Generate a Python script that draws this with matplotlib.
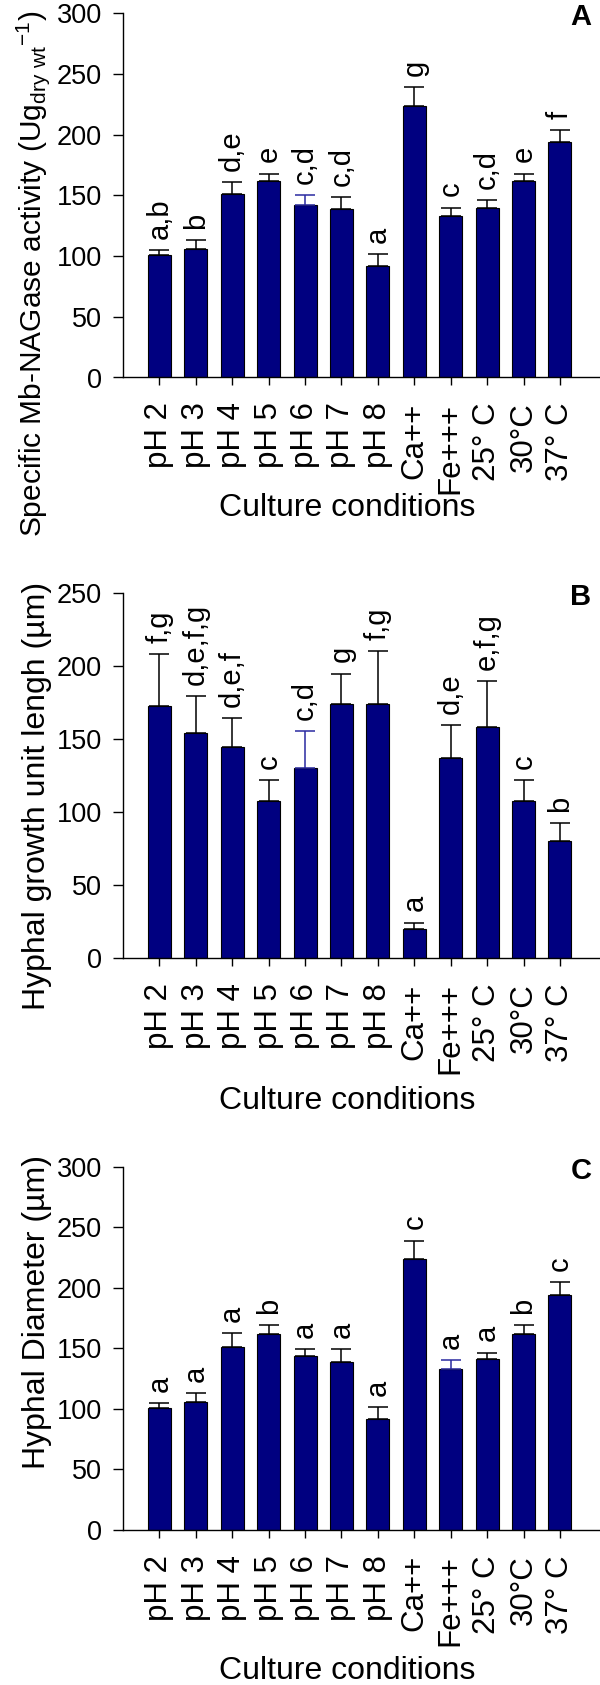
import matplotlib
matplotlib.use("Agg")
import matplotlib.pyplot as plt
import numpy as np

plt.rcParams['font.family'] = ['Liberation Sans', 'DejaVu Sans']
plt.rcParams['mathtext.fontset'] = 'custom'
plt.rcParams['mathtext.rm'] = 'Liberation Sans'
plt.rcParams['mathtext.default'] = 'regular'

categories = ['pH 2', 'pH 3', 'pH 4', 'pH 5', 'pH 6', 'pH 7', 'pH 8',
              'Ca++', 'Fe+++', '25° C', '30°C', '37° C']

# Panel A: specific Mb-NAGase activity
a_vals = [101, 106, 151, 162, 142.5, 139, 92, 224, 133, 140, 162, 194]
a_err = [4, 7.5, 10, 6, 7.5, 10, 9.5, 15, 7, 6.5, 6, 9.5]
a_letters = ['a,b', 'b', 'd,e', 'e', 'c,d', 'c,d', 'a', 'g', 'c', 'c,d', 'e', 'f']

# Panel B: hyphal growth unit length
b_vals = [173, 154.5, 144.5, 108, 130, 174.5, 174, 20, 137.5, 158.5, 108, 80.5]
b_err = [35.5, 25, 20, 14, 25.5, 20.5, 36.5, 4.5, 22, 31.5, 14, 12]
b_letters = ['f,g', 'd,e,f,g', 'd,e,f', 'c', 'c,d', 'g', 'f,g', 'a', 'd,e',
             'e,f,g', 'c', 'b']

# Panel C: hyphal diameter
c_vals = [100.5, 106, 151, 162, 143.5, 139, 92, 224, 133, 141.5, 162, 194]
c_err = [4, 7, 11.5, 7, 6, 10.5, 9.5, 15, 7.5, 5, 7, 10.5]
c_letters = ['a', 'a', 'a', 'b', 'a', 'a', 'a', 'c', 'a', 'a', 'b', 'c']

BAR = '#000080'
BLUE_ERR = '#2a2aa0'

W, H = 600, 1685
fig = plt.figure(figsize=(W / 100, H / 100), dpi=100)


def px_axes(left, top, right, bottom):
    return fig.add_axes([left / W, 1 - bottom / H, (right - left) / W, (bottom - top) / H])


panels = [
    dict(top=13.3, bottom=377.5, vals=a_vals, err=a_err, letters=a_letters,
         ymax=300, ylabel=r'Specific Mb-NAGase activity (Ug$_{dry\ wt}$$^{-1}$)',
         ylab_y=0.285, ylab_fs=21.5, xlab_off=131, tag='A', blue=4),
    dict(top=593.3, bottom=958.3, vals=b_vals, err=b_err, letters=b_letters,
         ymax=250, ylabel='Hyphal growth unit lengh (µm)', ylab_y=0.445, ylab_fs=23,
         xlab_off=143, tag='B', blue=4),
    dict(top=1166.7, bottom=1530, vals=c_vals, err=c_err, letters=c_letters,
         ymax=300, ylabel='Hyphal Diameter (µm)', ylab_y=0.60, ylab_fs=23,
         xlab_off=141, tag='C', blue=8),
]

x = np.arange(len(categories))
for p in panels:
    ax = px_axes(123, p['top'], 600, p['bottom'])
    hpx = p['bottom'] - p['top']
    ax.bar(x, p['vals'], width=0.63, color=BAR, edgecolor='black', linewidth=0.8, zorder=2)
    for i in range(len(x)):
        col = BLUE_ERR if i == p['blue'] else 'black'
        ax.errorbar(x[i], p['vals'][i], yerr=[[0], [p['err'][i]]], fmt='none',
                    ecolor=col, elinewidth=1.1, capsize=7, capthick=1.1, zorder=3)
        ax.annotate(p['letters'][i], (x[i], p['vals'][i] + p['err'][i]),
                    xytext=(0, 8), textcoords='offset points', rotation=90,
                    ha='center', va='bottom', fontsize=21)
    ax.set_xlim(-1.0, 12.1)
    ax.set_ylim(0, p['ymax'])
    ax.set_yticks(np.arange(0, p['ymax'] + 1, 50))
    ax.set_xticks(x)
    ax.set_xticklabels(categories, rotation=90, fontsize=22.5)
    ax.tick_params(axis='y', labelsize=19.5, length=7, width=1.0, pad=8)
    ax.tick_params(axis='x', length=6, width=1.0, pad=12)
    for s in ['top', 'right']:
        ax.spines[s].set_visible(False)
    for s in ['left', 'bottom']:
        ax.spines[s].set_linewidth(1.0)
    ax.set_xlabel('Culture conditions', fontsize=23)
    ax.xaxis.set_label_coords(0.47, -p['xlab_off'] / hpx)
    ax.xaxis.label.set_va('center')
    ax.set_ylabel(p['ylabel'], fontsize=p['ylab_fs'])
    ax.yaxis.set_label_coords(-0.149, p['ylab_y'])
    ax.yaxis.label.set_va('bottom')
    ax.yaxis.label.set_ha('center')
    fig.text(581 / W, 1 - (p['top'] + 4) / H, p['tag'], fontsize=21, fontweight='bold',
             ha='center', va='center')

fig.savefig('out.png', dpi=100)
